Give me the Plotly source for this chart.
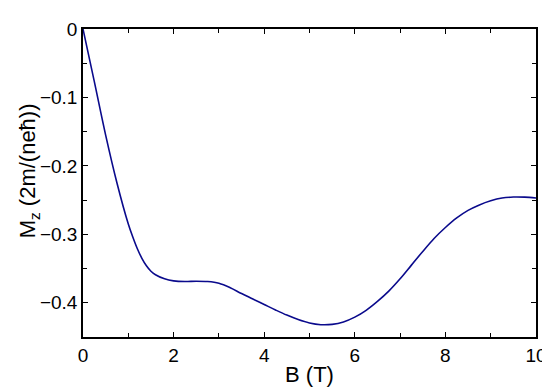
import plotly.graph_objects as go

B_T = [0, 0.25, 0.5, 0.75, 1.0, 1.1, 1.2, 1.3, 1.4, 1.5, 1.6, 1.8, 2.0, 2.25, 2.5,
       2.75, 3.0, 3.25, 3.5, 3.75, 4.0, 4.25, 4.5, 4.75, 5.0, 5.25, 5.5, 5.75, 6.0,
       6.25, 6.5, 6.75, 7.0, 7.25, 7.5, 7.75, 8.0, 8.25, 8.5, 8.75, 9.0, 9.25, 9.5,
       9.75, 10.0]
Mz = [0, -0.077, -0.155, -0.225, -0.285, -0.304, -0.321, -0.335, -0.346, -0.354,
      -0.359, -0.365, -0.368, -0.369, -0.3685, -0.369, -0.3715, -0.378, -0.3865,
      -0.3945, -0.4025, -0.4105, -0.418, -0.4245, -0.4295, -0.432, -0.4315, -0.428,
      -0.421, -0.411, -0.398, -0.383, -0.365, -0.345, -0.325, -0.306, -0.290,
      -0.276, -0.265, -0.257, -0.251, -0.247, -0.2455, -0.2457, -0.247]

x_ticks = [0, 2, 4, 6, 8, 10]
y_ticks = [0, -0.1, -0.2, -0.3, -0.4]
x_title = "B (T)"
y_title = "M<sub>z</sub> (2m/(neħ))"

fig = go.Figure()
fig.add_trace(go.Scatter(x=B_T, y=Mz, mode="lines",
                         line=dict(color="#0a0a8c", width=1.6, shape="spline", smoothing=1.0),
                         showlegend=False))

font = dict(family="Liberation Sans, Arial, sans-serif", color="black")
fig.update_layout(
    width=550, height=387,
    margin=dict(l=75, r=18, t=11, b=58),
    paper_bgcolor="white", plot_bgcolor="white",
    font=dict(**font, size=19),
)
fig.update_xaxes(
    range=[0, 10], tickvals=x_ticks, ticks="inside", ticklen=5, tickwidth=1.3,
    tickcolor="black", showline=True, linecolor="black", linewidth=1.5, mirror="allticks",
    showgrid=False, zeroline=False, tickfont=dict(size=19),
    minor=dict(tickvals=[1, 3, 5, 7, 9], ticks="inside", ticklen=4, tickwidth=1.2,
               tickcolor="black", showgrid=False),
    title=dict(text=x_title, font=dict(size=22), standoff=2),
)
fig.update_yaxes(
    range=[-0.45, 0], tickvals=y_ticks, ticks="inside", ticklen=5, tickwidth=1.3,
    tickcolor="black", showline=True, linecolor="black", linewidth=1.5, mirror="allticks",
    showgrid=False, zeroline=False, tickfont=dict(size=19),
    minor=dict(tickvals=[-0.05, -0.15, -0.25, -0.35, -0.45], ticks="inside", ticklen=4,
               tickwidth=1.2, tickcolor="black", showgrid=False),
)
fig.add_annotation(text=y_title, xref="paper", yref="paper", x=-0.12, y=0.54,
                   xanchor="center", yanchor="middle", textangle=-90, showarrow=False,
                   font=dict(size=22))
fig.write_html("out.html")
